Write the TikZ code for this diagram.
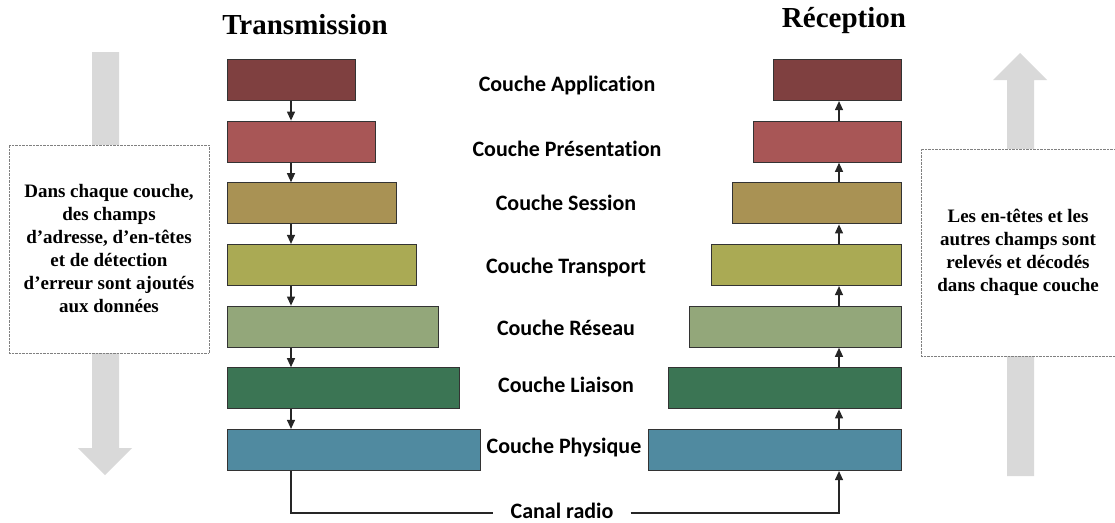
\documentclass[tikz,border=0pt]{standalone}
\usepackage{fontspec}
\setmainfont{Liberation Serif}
\newfontfamily\couchefont[Ligatures=NoCommon]{Carlito}
\usetikzlibrary{arrows.meta}

\definecolor{cApp}{RGB}{127,64,64}
\definecolor{cPre}{RGB}{168,86,86}
\definecolor{cSes}{RGB}{169,146,84}
\definecolor{cTra}{RGB}{170,170,84}
\definecolor{cRes}{RGB}{147,167,122}
\definecolor{cLia}{RGB}{59,117,84}
\definecolor{cPhy}{RGB}{80,138,160}
\definecolor{bigarrow}{RGB}{217,217,217}

\begin{document}
\begin{tikzpicture}[x=1pt,y=-1pt]
	\useasboundingbox (0,0) rectangle (1115,522);
	% grosses fleches
	\fill[bigarrow] (92,52) -- (119,52) -- (119,448) -- (132,448) -- (105,475)
		-- (78,448) -- (92,448) -- cycle;
	\fill[bigarrow] (1007,476) -- (1034,476) -- (1034,80) -- (1047,80) -- (1020,53)
		-- (993,80) -- (1007,80) -- cycle;
	\begin{scope}[every node/.style={draw=gray, densely dotted, thin, fill=white,
			font=\bfseries\fontsize{19}{23}\selectfont, align=center}]
		\node[minimum width=200pt, minimum height=208pt] (note1) at (109,249)
			{Dans chaque couche,\\des champs\\d’adresse, d’en-têtes\\et de détection\\d\char"27 erreur sont ajoutés\\aux données};
		\node[minimum width=194pt, minimum height=207pt] (note2) at (1018,252.5)
			{Les en-têtes et les\\autres champs sont\\relevés et décodés\\dans chaque couche};
	\end{scope}
	\node[font=\bfseries\fontsize{29}{34}\selectfont] (tx title) at (305,25) {Transmission};
	\node[font=\bfseries\fontsize{29}{34}\selectfont] (rx title) at (844,21) {Réception};
	\begin{scope}[every node/.style={rectangle, draw=black!80, line width=1.2pt,
			minimum height=41pt, inner sep=0pt}]
		\node[anchor=west, fill=cApp, minimum width=128pt] (TA) at (227,80) {};
		\node[anchor=west, fill=cPre, minimum width=148pt] (TP) at (227,141.7) {};
		\node[anchor=west, fill=cSes, minimum width=169pt] (TS) at (227,203.3) {};
		\node[anchor=west, fill=cTra, minimum width=189pt] (TT) at (227,265) {};
		\node[anchor=west, fill=cRes, minimum width=211pt] (TR) at (227,326.7) {};
		\node[anchor=west, fill=cLia, minimum width=232pt] (TL) at (227,388.3) {};
		\node[anchor=west, fill=cPhy, minimum width=253pt] (TPh) at (227,450) {};
		\node[anchor=east, fill=cApp, minimum width=128pt] (RA) at (902,80) {};
		\node[anchor=east, fill=cPre, minimum width=148pt] (RP) at (902,141.7) {};
		\node[anchor=east, fill=cSes, minimum width=169pt] (RS) at (902,203.3) {};
		\node[anchor=east, fill=cTra, minimum width=190pt] (RT) at (902,265) {};
		\node[anchor=east, fill=cRes, minimum width=212pt] (RR) at (902,326.7) {};
		\node[anchor=east, fill=cLia, minimum width=233pt] (RL) at (902,388.3) {};
		\node[anchor=east, fill=cPhy, minimum width=253pt] (RPh) at (902,450) {};
	\end{scope}
	\begin{scope}[every node/.style={font=\couchefont\bfseries\fontsize{22}{26}\selectfont,
			text height=15pt, text depth=4pt}]
		\node (lA) at (567,86) {Couche Application};
		\node (lP) at (567,151) {Couche Présentation};
		\node (lS) at (566,205) {Couche Session};
		\node (lT) at (566,268) {Couche Transport};
		\node (lR) at (566,330) {Couche Réseau};
		\node (lL) at (566,387) {Couche Liaison};
		\node (lPh) at (564,448) {Couche Physique};
		\node[inner xsep=17pt] (canal) at (562,513) {Canal radio};
	\end{scope}
	\coordinate (tx) at (291,0);
	\coordinate (rx) at (839,0);
	\begin{scope}[>={Triangle[length=9pt, width=8pt]},
			every edge/.style={draw=black!85, line width=1.2pt}]
		\path [->] (TA.south -| tx) edge (TP.north -| tx);
		\path [->] (TP.south -| tx) edge (TS.north -| tx);
		\path [->] (TS.south -| tx) edge (TT.north -| tx);
		\path [->] (TT.south -| tx) edge (TR.north -| tx);
		\path [->] (TR.south -| tx) edge (TL.north -| tx);
		\path [->] (TL.south -| tx) edge (TPh.north -| tx);
		\path [->] (RPh.north -| rx) edge (RL.south -| rx);
		\path [->] (RL.north -| rx) edge (RR.south -| rx);
		\path [->] (RR.north -| rx) edge (RT.south -| rx);
		\path [->] (RT.north -| rx) edge (RS.south -| rx);
		\path [->] (RS.north -| rx) edge (RP.south -| rx);
		\path [->] (RP.north -| rx) edge (RA.south -| rx);
		\draw [black!85, line width=1.2pt] (TPh.south -| tx) |- (canal.west);
		\draw [->, black!85, line width=1.2pt] (canal.east) -| (RPh.south -| rx);
	\end{scope}
\end{tikzpicture}
\end{document}
